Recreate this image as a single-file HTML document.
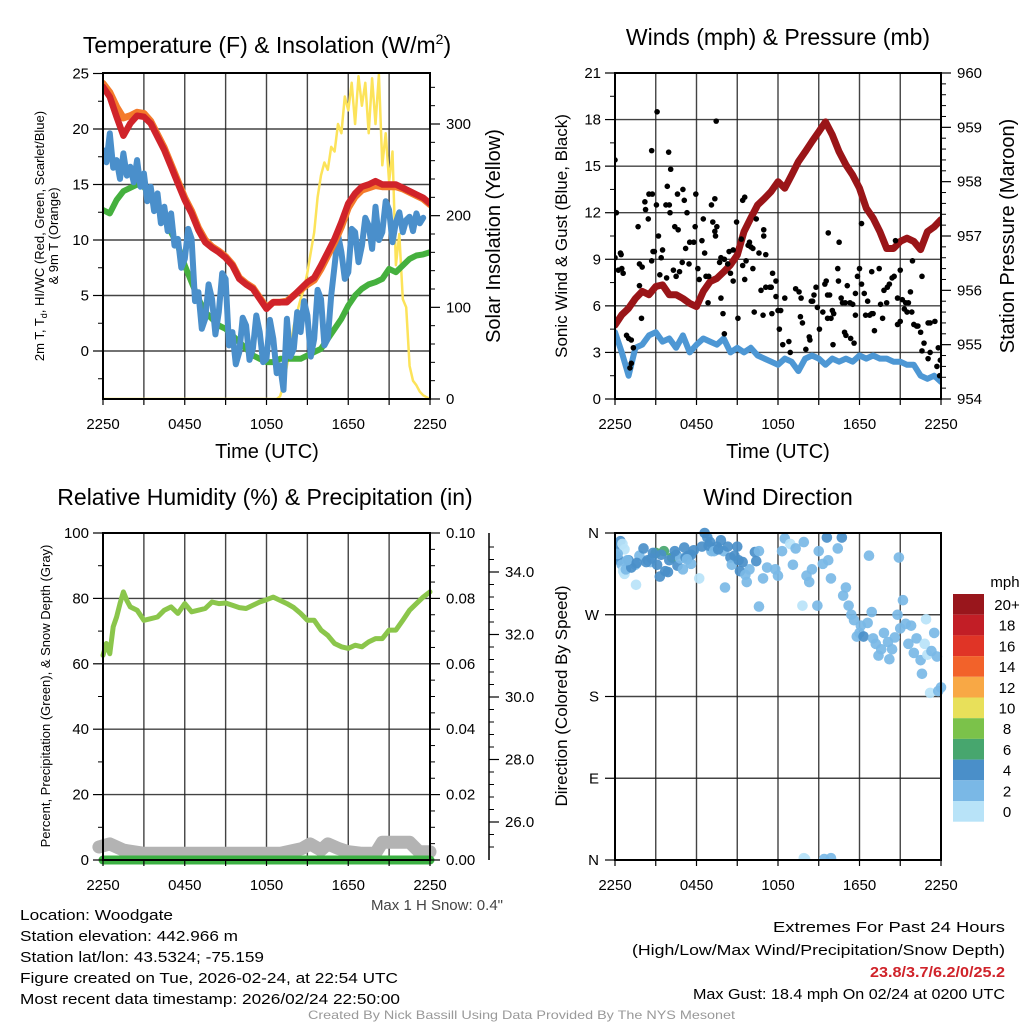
<!DOCTYPE html>
<html><head><meta charset="utf-8">
<style>
html,body{margin:0;padding:0;background:#fff;}
svg{display:block;font-family:"Liberation Sans",sans-serif;}
</style></head>
<body>
<svg id="fig" width="1024" height="1024" viewBox="0 0 1024 1024" xmlns="http://www.w3.org/2000/svg">
<rect width="1024" height="1024" fill="#fff"/>
<g id="layer"></g>
</svg>
<script>
// ---------- Data ----------
const hours49 = [0,0.5,1,1.5,2,2.5,3,3.5,4,4.5,5,5.5,6,6.5,7,7.5,8,8.5,9,9.5,10,10.5,11,11.5,12,12.5,13,13.5,14,14.5,15,15.5,16,16.5,17,17.5,18,18.5,19,19.5,20,20.5,21,21.5,22,22.5,23,23.5,24];
const hours97 = [0,0.25,0.5,0.75,1,1.25,1.5,1.75,2,2.25,2.5,2.75,3,3.25,3.5,3.75,4,4.25,4.5,4.75,5,5.25,5.5,5.75,6,6.25,6.5,6.75,7,7.25,7.5,7.75,8,8.25,8.5,8.75,9,9.25,9.5,9.75,10,10.25,10.5,10.75,11,11.25,11.5,11.75,12,12.25,12.5,12.75,13,13.25,13.5,13.75,14,14.25,14.5,14.75,15,15.25,15.5,15.75,16,16.25,16.5,16.75,17,17.25,17.5,17.75,18,18.25,18.5,18.75,19,19.25,19.5,19.75,20,20.25,20.5,20.75,21,21.25,21.5,21.75,22,22.25,22.5,22.75,23,23.25,23.5,23.75,24];
const tempRed = [23.8,22.9,21.1,19.4,20.5,21.2,21.1,20.5,19.3,18.1,16.6,15.1,13.6,12.4,10.9,9.8,9.3,8.9,8.4,7.7,6.5,6.0,5.6,4.7,3.8,4.4,4.4,4.4,5.0,5.6,6.2,6.6,7.7,8.9,10.1,11.6,13.3,14.2,14.8,15.0,15.3,15.0,15.0,15.0,14.7,14.4,14.1,13.8,13.3];
const temp9m = [24.1,23.3,22.0,21.0,21.2,21.5,21.4,20.7,19.5,18.3,16.8,15.3,13.8,12.6,11.1,10.0,9.4,9.0,8.5,7.8,6.6,6.1,5.7,4.8,3.9,4.4,4.4,4.5,5.0,5.5,6.0,6.4,7.4,8.6,9.8,11.2,12.9,13.9,14.5,14.7,14.9,14.8,14.8,14.8,14.6,14.3,14.0,13.7,13.2];
const dewGreen = [12.7,12.4,13.6,14.4,14.7,15.0,14.8,13.9,13.0,11.9,10.7,9.5,7.7,6.2,4.7,3.5,2.9,2.3,2.0,1.4,0.8,0.2,-0.4,-0.7,-1.0,-1.0,-0.7,-0.7,-0.7,-0.7,-0.4,-0.1,0.2,1.1,2.0,2.9,4.1,5.0,5.6,6.0,6.2,6.5,7.4,7.1,7.7,8.3,8.6,8.7,8.9];
const chillBlue = [18.1,17.0,19.6,16.5,17.2,15.5,17.8,15.8,16.6,15.2,17.2,14.8,16.0,13.5,14.8,12.6,14.2,11.5,13.0,10.8,12.4,9.5,10.1,7.5,8.3,11.0,10.1,4.5,5.3,2.0,2.9,6.0,4.7,1.5,3.5,7.0,6.5,0.5,1.7,-1.2,-0.1,3.0,2.3,-0.8,0.2,3.2,1.7,-1.0,-0.7,2.8,1.1,-2.0,-1.3,-3.5,2.9,-0.5,0.2,3.5,1.7,4.5,3.2,-0.5,1.1,5.5,4.7,0.5,1.1,5.0,7.7,10.5,8.9,6.5,7.1,11.0,10.7,8.0,9.5,12.0,11.3,9.2,13.0,10.0,10.7,13.5,12.7,9.8,11.6,12.5,10.7,11.8,12.1,10.8,12.4,11.5,12.0,null,null];
const insolation = [0,0,0,0,0,0,0,0,0,0,0,0,0,0,0,0,0,0,0,0,0,0,0,0,0,0,0,0,0,0,0,0,0,0,0,0,0,0,0,0,0,0,0,0,0,0,0,0,0,0,0,0,3,15,36,55,80,95,109,120,138,160,182,220,244,258,250,275,270,300,290,330,315,345,300,352,320,345,290,350,300,354,255,290,237,270,146,180,109,100,36,20,15,8,4,2,0];
const windSpeed = [4.3,3.0,1.5,3.3,3.5,4.1,4.3,3.7,3.9,3.3,4.1,3.0,3.5,3.9,3.7,3.5,3.9,3.0,3.3,3.0,3.3,2.8,2.6,2.4,2.2,2.6,2.4,1.8,2.6,2.8,2.6,2.2,2.6,2.4,2.6,2.4,2.8,2.6,2.8,2.6,2.6,2.4,2.4,2.2,2.2,1.5,1.3,1.5,1.1];
const pressure = [955.36,955.55,955.67,955.85,955.98,955.92,956.07,956.10,955.92,955.92,955.85,955.76,955.70,955.98,956.16,956.22,956.34,956.47,956.65,957.08,957.33,957.57,957.69,957.82,958.00,957.88,958.12,958.37,958.55,958.74,958.92,959.10,958.86,958.55,958.31,958.12,957.88,957.51,957.33,957.08,956.77,956.77,956.90,956.96,956.90,956.75,957.08,957.17,957.30];
const rhHours = [0,0.25,0.5,0.75,1,1.25,1.5,1.75,2,2.5,3,3.5,4,4.5,5,5.5,6,6.5,7,7.5,8,8.5,9,9.5,10,10.5,11,11.5,12,12.5,13,13.5,14,14.5,15,15.5,16,16.5,17,17.5,18,18.5,19,19.5,20,20.5,21,21.5,22,22.5,23,23.5,24];
const rhValues = [62.6,66.2,63.1,71.3,74.3,78.4,82.0,79.4,77.4,76.4,73.3,73.8,74.3,76.4,77.4,75.4,78.4,75.9,76.4,76.9,78.9,78.4,78.6,77.9,77.2,76.9,77.9,78.9,79.6,80.4,79.4,78.4,77.2,75.4,73.3,73.3,70.3,68.7,66.2,65.2,64.7,65.7,65.2,66.7,67.7,67.7,70.3,70.3,73.3,76.4,78.4,80.4,82.0];
const precipHours = [0,24];
const precipValues = [0,0];
const snowHours = [-0.3,0.5,1.5,3,6,9,11,13,14.6,15.2,16,16.5,17.3,18,19,20,20.5,21.5,22.5,23.2,24];
const snowDepth = [25.2,25.3,25.1,25.0,25.0,25.0,25.0,25.0,25.15,25.3,25.1,25.3,25.15,25.05,25.0,25.0,25.35,25.35,25.35,25.05,25.05];
const gustHours = [0,0.1,0,0.4,0.45,0.25,0.5,0.6,0.85,1.0,1.2,1.35,1.2,1.1,1.7,1.8,2.0,1.8,1.95,2.2,2.25,2.45,2.5,2.75,2.7,3.1,2.8,2.9,2.7,3.05,3.2,3.3,3.4,3.5,3.75,4.0,3.95,4.1,3.85,4.05,3.8,4.3,4.5,4.75,4.4,4.65,4.6,5.0,5.1,5.3,4.95,5.2,5.45,5.5,5.8,5.95,5.9,6.1,6.2,6.5,6.6,6.4,6.7,6.9,6.85,7.1,7.2,7.35,7.35,7.45,7.4,7.5,7.7,7.8,7.95,8.05,7.8,8.05,8.3,8.5,8.4,8.7,8.7,8.95,9.05,9.3,9.4,9.55,9.4,9.55,9.65,9.8,9.9,10.0,10.15,10.15,10.25,10.4,10.6,10.75,10.9,10.95,10.95,11.1,11.1,11.4,11.5,11.55,11.6,11.85,11.85,12.0,12.2,12.1,12.35,12.5,12.8,12.9,13.3,13.55,13.7,13.65,13.8,14.05,14.3,14.35,14.45,14.55,14.65,14.8,14.9,15.05,15.3,15.45,15.55,15.7,15.65,15.8,15.65,15.9,16.0,16.1,16.05,16.4,16.5,16.45,16.65,16.75,16.95,16.9,17.0,17.1,17.3,17.35,17.5,17.6,17.7,17.7,17.85,18.0,18.15,18.15,18.35,18.45,18.6,18.75,18.9,19.0,18.9,19.1,19.45,19.55,19.7,19.8,20.05,20.0,20.2,20.4,20.55,20.65,20.8,20.8,21.0,21.0,21.15,21.3,21.5,21.4,21.6,21.75,21.85,21.9,22.0,22.2,22.3,22.5,22.6,22.6,22.75,23.05,23.2,23.05,23.2,23.55,23.8,23.7,23.9,23.95];
const gustValues = [15.4,12.0,9.1,9.4,9.3,8.3,8.4,8.1,4.1,3.9,3.8,3.3,2.3,2.0,11.1,8.7,8.5,7.3,5.2,12.7,12.2,11.6,13.2,13.2,16.0,18.5,9.5,9.5,8.9,12.5,10.5,8.0,9.1,9.6,12.5,12.5,15.9,14.8,13.7,12.0,7.8,8.3,7.9,8.2,11.1,10.9,13.2,13.5,12.8,12.0,8.8,9.7,8.7,10.1,10.1,13.2,11.1,8.4,7.7,11.6,9.4,10.2,7.9,7.9,6.2,12.5,11.4,12.9,10.8,17.9,10.5,11.1,8.8,9.1,5.5,4.2,6.5,9.0,8.7,8.1,9.5,9.6,7.6,11.4,5.2,10.3,12.8,13.0,8.6,7.7,8.9,9.9,10.1,9.8,9.7,8.4,5.6,11.6,9.4,7.0,5.4,10.9,10.5,9.3,7.2,7.2,7.2,5.5,8.1,7.6,6.6,5.7,5.7,4.5,3.5,6.5,3.7,3.0,7.1,6.9,6.5,5.3,4.9,3.2,4.0,3.8,6.3,6.3,6.7,7.2,5.9,4.5,5.6,7.4,7.6,10.7,6.7,6.7,5.2,5.2,5.7,5.5,3.5,8.4,10.1,7.6,6.5,6.2,6.2,4.3,4.1,7.3,6.2,3.9,6.1,3.6,5.4,6.8,7.9,8.4,7.4,11.3,6.8,5.4,6.3,5.4,5.5,5.5,8.2,4.4,8.4,6.1,5.2,7.0,7.2,6.2,7.4,7.8,7.9,10.2,4.8,6.5,8.3,5.0,6.4,5.8,5.6,6.2,6.2,6.9,5.6,8.9,4.8,4.7,4.7,4.3,7.9,3.1,3.6,4.9,4.9,2.6,3.0,5.0,3.3,2.1,1.5,2.5];
const dirHours = [0,0.4,0.1,0.3,0.5,0.6,0.7,0.8,0.7,0.55,1.55,1.5,1.8,2.1,2.4,2.6,3.0,3.1,3.3,3.6,3.7,3.9,4.2,4.5,4.6,4.8,5.0,5.2,5.4,5.6,5.8,6.2,6.4,6.6,6.8,7.0,7.1,7.5,7.8,8.0,8.1,8.5,8.6,9.0,9.1,9.2,9.6,9.7,9.9,10.3,10.4,10.6,10.6,10.9,11.2,11.8,12.0,12.3,12.5,12.9,13.1,13.3,13.8,13.9,14.1,14.3,14.5,14.9,15.0,15.3,15.6,15.7,15.9,16.4,16.7,16.8,17.0,17.2,17.4,17.6,17.8,18.0,18.1,18.3,18.6,18.7,18.9,19.0,19.2,19.4,19.6,19.8,20.1,20.2,20.4,20.6,20.8,20.9,21.0,21.2,21.4,21.6,21.8,22.0,22.2,22.5,22.6,22.9,22.8,23.0,23.2,23.3,23.5,23.7,23.8,24.0,13.9,14.0,15.4,15.9,1.0,1.2,2.3,2.8,3.4,4.0,5.1,5.6,6.9,7.3,8.8,9.4,0.2,0.9,1.6,2.7,4.4,5.3,7.6,8.3];
const dirDegrees = [345,351,335,330,325,318,315,320,342,348,303,325,335,343,330,328,338,325,312,340,318,317,333,336,324,332,320,333,335,326,341,310,345,360,355,350,340,345,352,340,300,333,325,345,330,318,314,306,320,339,329,340,279,310,322,320,313,340,354,348,325,343,280,350,313,306,320,280,340,326,355,330,310,343,355,291,300,280,270,264,246,250,258,246,261,335,273,244,238,225,232,250,240,221,232,245,270,333,255,286,260,238,258,228,244,220,205,265,238,226,184,230,250,224,186,190,2,1,1,2,330,322,328,338,336,330,344,336,346,340,335,328,337,330,327,332,340,331,342,345];
const dirSpeed = [4,4,4,4,2,0,0,2,0,0,0,2,2,4,4,2,6,4,4,6,4,4,6,4,4,2,2,4,4,2,4,0,4,4,4,4,2,4,4,2,2,4,2,4,4,4,2,2,2,4,4,2,2,2,2,2,2,2,2,0,2,2,0,2,2,2,2,2,2,2,4,2,2,2,4,2,2,2,2,2,2,2,2,4,2,2,2,2,2,2,2,2,2,2,2,2,2,2,2,2,2,2,2,2,2,2,2,0,0,0,0,2,2,2,2,2,0,0,2,2,4,4,4,4,4,4,4,4,4,2,4,4,2,2,4,4,4,2,4,4];
const cbLabels = ["20+","18","16","14","12","10","8","6","4","2","0"];
const cbColors = ["#99161c","#c21e26","#e03426","#f2622a","#f8a845","#e8e05a","#7bc24a","#47a66e","#4a8fc9","#7ab8e6","#b8e3f8"];
const timeTickHours = [0,6,12,18,24];
const timeTickLabels = ["2250","0450","1050","1650","2250"];

// ---------- helpers ----------
const NS = "http://www.w3.org/2000/svg";
const layer = document.getElementById("layer");
function mk(tag, attrs, parent){
  const e = document.createElementNS(NS, tag);
  for (const k in attrs) e.setAttribute(k, attrs[k]);
  (parent||layer).appendChild(e);
  return e;
}
function txt(s, x, y, size, anchor, parent, extra){
  const e = mk("text", Object.assign({x:x, y:y, "font-size":size, "text-anchor":anchor||"middle", fill:"#000"}, extra||{}), parent);
  e.textContent = s;
  return e;
}
function lin(d0,d1,r0,r1){ return v => r0 + (v-d0)*(r1-r0)/(d1-d0); }
function pathFrom(xs, ys, fx, fy){
  let d = "", pen = false;
  for (let i=0;i<xs.length;i++){
    if (ys[i]===null || ys[i]===undefined){ pen=false; continue; }
    d += (pen?"L":"M") + fx(xs[i]).toFixed(1) + "," + fy(ys[i]).toFixed(1);
    pen = true;
  }
  return d;
}
function frame(g, P){
  for (let i=1;i<8;i++){
    const x = P.x0 + i*(P.x1-P.x0)/8;
    const gl = mk("line",{x1:x,y1:P.y0,x2:x,y2:P.y1,stroke:"#222","stroke-width":1.4,"stroke-opacity":0.85},g);
    
    
  }
}
function hgrid(g,P,ys){
  ys.forEach(y=>{
    const gl = mk("line",{x1:P.x0,y1:y,x2:P.x1,y2:y,stroke:"#222","stroke-width":1.4,"stroke-opacity":0.85},g);
    
    
  });
}
function border(g,P){
  const b = mk("rect",{x:P.x0,y:P.y0,width:P.x1-P.x0,height:P.y1-P.y0,fill:"none",stroke:"#000","stroke-width":2},g);
  
  
}
function timeAxis(g,P,fx){
  const ax = mk("g",{},g);
  
  
  for (let h=0;h<=24;h+=3){
    mk("line",{x1:fx(h),y1:P.y1,x2:fx(h),y2:P.y1+6,stroke:"#000","stroke-width":1.2},ax);
  }
  timeTickHours.forEach((h,i)=>{
    const t = txt(timeTickLabels[i], fx(h), P.y1+30, 15, "middle", ax);
    
    
  });
}
function leftTicks(g,P,fy,vals,labels,minorVals){
  const ax = mk("g",{},g);
  
  
  vals.forEach((v,i)=>{
    mk("line",{x1:P.x0-10,y1:fy(v),x2:P.x0,y2:fy(v),stroke:"#000","stroke-width":1.2},ax);
    const t = txt(labels[i], P.x0-14, fy(v)+5, 15, "end", ax);
    
    
  });
  (minorVals||[]).forEach(v=>{ mk("line",{x1:P.x0-5,y1:fy(v),x2:P.x0,y2:fy(v),stroke:"#000","stroke-width":1},ax); });
}
function rightTicks(g,P,fy,vals,labels,minorVals){
  const ax = mk("g",{},g);
  
  
  vals.forEach((v,i)=>{
    mk("line",{x1:P.x1,y1:fy(v),x2:P.x1+10,y2:fy(v),stroke:"#000","stroke-width":1.2},ax);
    const t = txt(labels[i], P.x1+16, fy(v)+5, 15, "start", ax);
    
    
  });
  (minorVals||[]).forEach(v=>{ mk("line",{x1:P.x1,y1:fy(v),x2:P.x1+5,y2:fy(v),stroke:"#000","stroke-width":1},ax); });
}
function seq(a,b,s){ const r=[]; for(let v=a; v<=b+1e-9; v+=s) r.push(+v.toFixed(4)); return r; }

// ---------- Panel 1: Temperature ----------
(function(){
  const P = {x0:103,x1:430,y0:73,y1:399};
  const g = mk("g",{});  
  const fx = lin(0,24,P.x0,P.x1);
  const fy = lin(0,25,351,73.5);
  const fyR = lin(0,300,399,124);
  frame(g,P); hgrid(g,P,[0,5,10,15,20].map(fy));
  const clip = mk("clipPath",{id:"c1"},g); mk("rect",{x:P.x0,y:P.y0,width:P.x1-P.x0,height:P.y1-P.y0},clip);
  const s = mk("g",{"clip-path":"url(#c1)"},g);
  const series = [
    [hours97, insolation, "#fce35a", 2.5, fyR, "insolation-line"],
    [hours49, dewGreen, "#45b03e", 6, fy, "dewpoint-line"],
    [hours97, chillBlue, "#4a8fcb", 6, fy, "windchill-line"],
    [hours49, temp9m, "#f47b2b", 7, fy, "temp-9m-line"],
    [hours49, tempRed, "#d0232a", 6.5, fy, "temp-2m-line"]
  ];
  series.forEach(([hx,arr,col,w,f,name])=>{
    const p = mk("path",{d:pathFrom(hx,arr,fx,f),fill:"none",stroke:col,"stroke-width":w,"stroke-linejoin":"round","stroke-linecap":"round"},s);
    
    
  });
  border(g,P);
  leftTicks(g,P,fy,[0,5,10,15,20,25],["0","5","10","15","20","25"],seq(-2.5,22.5,5));
  rightTicks(g,P,fyR,[0,100,200,300],["0","100","200","300"],seq(20,340,20).filter(v=>v%100));
  timeAxis(g,P,fx);
  const t1 = txt("", 267, 53, 23, "middle", g); t1.innerHTML = 'Temperature (F) &amp; Insolation (W/m<tspan dy="-9" font-size="14">2</tspan><tspan dy="9">)</tspan>';
   
  const xl = txt("Time (UTC)", 267, 458, 20, "middle", g);  
  const yl = txt("", 0, 0, 13, "middle", g, {transform:"translate(44,236) rotate(-90)"});
  yl.innerHTML = '2m T, T<tspan dy="3" font-size="9">d</tspan><tspan dy="-3">, HI/WC (Red, Green, Scarlet/Blue)</tspan>';
   
  const yl2 = txt("& 9m T (Orange)", 0, 0, 13, "middle", g, {transform:"translate(58,236) rotate(-90)"});
   
  const yr = txt("Solar Insolation (Yellow)", 0, 0, 20, "middle", g, {transform:"translate(500,236) rotate(-90)"});
   
})();

// ---------- Panel 2: Winds ----------
(function(){
  const P = {x0:615,x1:941,y0:73,y1:399};
  const g = mk("g",{});  
  const fx = lin(0,24,P.x0,P.x1);
  const fy = lin(0,21,399,73);
  const fyP = lin(954,960,399,73);
  frame(g,P); hgrid(g,P,[3,6,9,12,15,18].map(fy));
  const clip = mk("clipPath",{id:"c2"},g); mk("rect",{x:P.x0,y:P.y0,width:P.x1-P.x0,height:P.y1-P.y0},clip);
  const s = mk("g",{"clip-path":"url(#c2)"},g);
  const wp = mk("path",{d:pathFrom(hours49,windSpeed,fx,fy),fill:"none",stroke:"#4d97d4","stroke-width":6,"stroke-linejoin":"round","stroke-linecap":"round"},s);
   
  const pp = mk("path",{d:pathFrom(hours49,pressure,fx,fyP),fill:"none",stroke:"#9a1518","stroke-width":7,"stroke-linejoin":"round","stroke-linecap":"round"},s);
   
  gustHours.forEach((h,i)=>{
    const c = mk("circle",{cx:fx(h),cy:fy(gustValues[i]),r:2.8,fill:"#000"},s);
    
    
  });
  border(g,P);
  leftTicks(g,P,fy,[0,3,6,9,12,15,18,21],["0","3","6","9","12","15","18","21"],seq(1.5,19.5,3));
  rightTicks(g,P,fyP,[954,955,956,957,958,959,960],["954","955","956","957","958","959","960"],seq(954.2,959.8,0.2).filter(v=>Math.abs(v-Math.round(v))>0.05));
  timeAxis(g,P,fx);
  const t = txt("Winds (mph) & Pressure (mb)", 778, 45, 23, "middle", g);  
  const xl = txt("Time (UTC)", 778, 458, 20, "middle", g);  
  const yl = txt("Sonic Wind & Gust (Blue, Black)", 0, 0, 17, "middle", g, {transform:"translate(567,236) rotate(-90)"});
   
  const yr = txt("Station Pressure (Maroon)", 0, 0, 20, "middle", g, {transform:"translate(1014,236) rotate(-90)"});
   
})();

// ---------- Panel 3: Humidity ----------
(function(){
  const P = {x0:103,x1:430,y0:533,y1:860};
  const g = mk("g",{});  
  const fx = lin(0,24,P.x0,P.x1);
  const fy = lin(0,100,860,533);
  const fyR = lin(0,0.1,860,533);
  const fyS = lin(26,34,822,572);
  frame(g,P); hgrid(g,P,[20,40,60,80].map(fy));
  const snow = mk("path",{d:pathFrom(snowHours,snowDepth,fx,fyS),fill:"none",stroke:"#b3b3b3","stroke-width":13,"stroke-linejoin":"round","stroke-linecap":"round"},g);
   
  const pr = mk("path",{d:pathFrom(precipHours,precipValues,fx,fyR),fill:"none",stroke:"#3cb043","stroke-width":9,"stroke-linecap":"round"},g);
   
  const rh = mk("path",{d:pathFrom(rhHours,rhValues,fx,fy),fill:"none",stroke:"#8bc64b","stroke-width":5,"stroke-linejoin":"round","stroke-linecap":"round"},g);
   
  border(g,P);
  mk("line",{x1:P.x0,y1:860,x2:P.x1,y2:860,stroke:"#000","stroke-width":2},g);
  leftTicks(g,P,fy,[0,20,40,60,80,100],["0","20","40","60","80","100"],seq(10,90,20));
  rightTicks(g,P,fyR,[0,0.02,0.04,0.06,0.08,0.1],["0.00","0.02","0.04","0.06","0.08","0.10"],seq(0.005,0.095,0.005).filter(v=>Math.abs(v*50-Math.round(v*50))>0.01));
  const sa = mk("g",{},g);  
  mk("line",{x1:489,y1:533,x2:489,y2:860,stroke:"#000","stroke-width":1.5},sa);
  [26,28,30,32,34].forEach(v=>{
    mk("line",{x1:489,y1:fyS(v),x2:499,y2:fyS(v),stroke:"#000","stroke-width":1.2},sa);
    txt(v.toFixed(1),505,fyS(v)+5,15,"start",sa);
  });
  seq(25.2,34.8,0.4).forEach(v=>{ if (Math.abs(v/2-Math.round(v/2))>0.05) mk("line",{x1:489,y1:fyS(v),x2:494,y2:fyS(v),stroke:"#000","stroke-width":1},sa); });
  timeAxis(g,P,fx);
  const t = txt("Relative Humidity (%) & Precipitation (in)", 265, 505, 23, "middle", g);  
  const yl = txt("Percent, Precipitation (Green), & Snow Depth (Gray)", 0, 0, 13, "middle", g, {transform:"translate(50,696) rotate(-90)"});
   
  const ms = txt("Max 1 H Snow: 0.4\"", 503, 910, 15, "end", g, {fill:"#444"});  
})();

// ---------- Panel 4: Wind direction ----------
(function(){
  const P = {x0:615,x1:941,y0:533,y1:860};
  const g = mk("g",{});  
  const fx = lin(0,24,P.x0,P.x1);
  const fy = lin(0,360,860,533);
  frame(g,P); hgrid(g,P,[90,180,270].map(fy));
  const binColor = {0:"#b8e3f8",2:"#7ab8e6",4:"#4a8fc9",6:"#47a66e"};
  const clip = mk("clipPath",{id:"c4"},g); mk("rect",{x:P.x0,y:P.y0-6,width:P.x1-P.x0+6,height:P.y1-P.y0+6},clip);
  const s = mk("g",{"clip-path":"url(#c4)"},g);
  dirHours.forEach((h,i)=>{
    const c = mk("circle",{cx:fx(h),cy:fy(dirDegrees[i]),r:5.3,fill:binColor[dirSpeed[i]]||"#7ab8e6","fill-opacity":0.92},s);
    
    
  });
  border(g,P);
  const ax = mk("g",{},g);  
  [[0,"N"],[90,"E"],[180,"S"],[270,"W"],[360,"N"]].forEach(([d,l])=>{
    mk("line",{x1:P.x0-10,y1:fy(d),x2:P.x0,y2:fy(d),stroke:"#000","stroke-width":1.2},ax);
    txt(l,P.x0-16,fy(d)+5,15,"end",ax);
  });
  timeAxis(g,P,fx);
  const t = txt("Wind Direction", 778, 505, 23, "middle", g);  
  const yl = txt("Direction (Colored By Speed)", 0, 0, 17, "middle", g, {transform:"translate(567,696) rotate(-90)"});
   
  const cb = mk("g",{},g);  
  txt("mph", 1005, 587, 15, "middle", cb);
  cbLabels.forEach((l,i)=>{
    const y = 594 + i*20.7;
    const r = mk("rect",{x:953,y:y,width:31,height:20.7,fill:cbColors[i]},cb);
    
    
    txt(l, 1007, y+16, 15, "middle", cb);
  });
})();

// ---------- footer text ----------
(function(){
  const g = mk("g",{});  
  const left = [["Location: Woodgate",153],["Station elevation: 442.966 m",218],["Station lat/lon: 43.5324; -75.159",244],["Figure created on Tue, 2026-02-24, at 22:54 UTC",378],["Most recent data timestamp: 2026/02/24 22:50:00",380]];
  left.forEach(([s,w],i)=>{
    const t = txt(s,20,920+i*21,15,"start",g,{textLength:w,lengthAdjust:"spacingAndGlyphs"});
     
  });
  const right = [["Extremes For Past 24 Hours",232,"#000","normal",932],["(High/Low/Max Wind/Precipitation/Snow Depth)",373,"#000","normal",955],["23.8/3.7/6.2/0/25.2",135,"#d0232a","bold",977],["Max Gust: 18.4 mph On 02/24 at 0200 UTC",312,"#000","normal",999]];
  right.forEach(([s,w,c,fw,y])=>{
    const t = txt(s,1005-w,y,15,"start",g,{textLength:w,lengthAdjust:"spacingAndGlyphs",fill:c,"font-weight":fw});
     
  });
  const cr = txt("Created By Nick Bassill Using Data Provided By The NYS Mesonet",308,1019,12,"start",g,{textLength:427,lengthAdjust:"spacingAndGlyphs",fill:"#999"});
   
})();
</script>
</body></html>
